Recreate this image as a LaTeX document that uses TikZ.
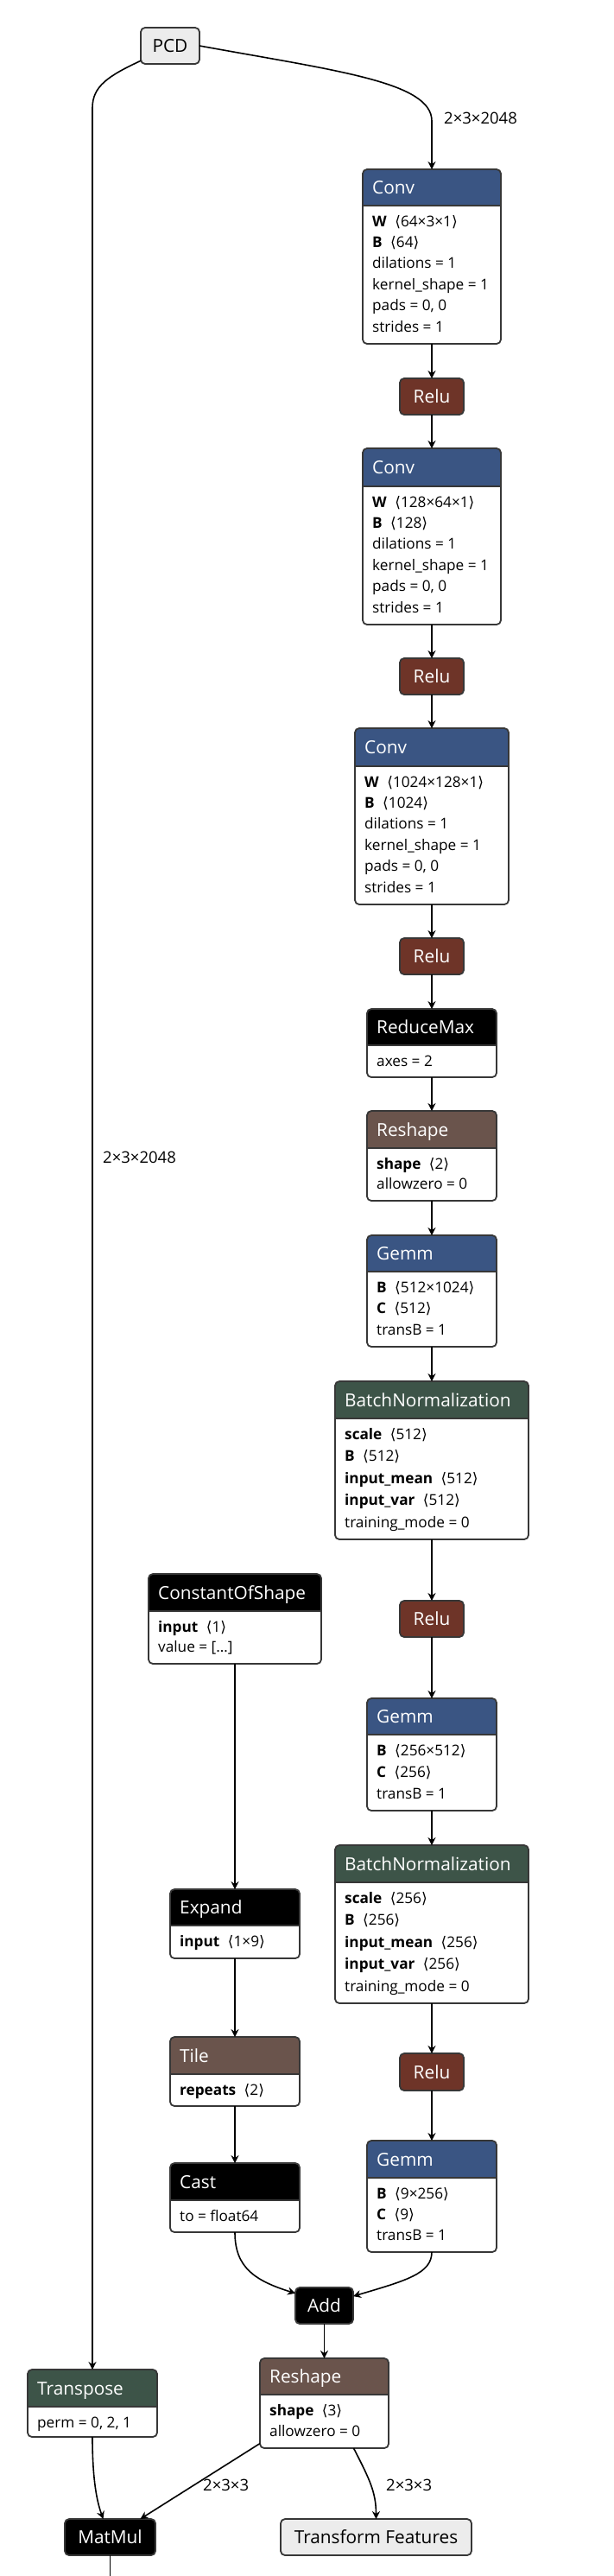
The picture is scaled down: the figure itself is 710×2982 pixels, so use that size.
\documentclass[tikz,border=0pt]{standalone}
\usepackage{fontspec}
\setmainfont{Open Sans}
\newfontfamily\brk{DejaVu Sans}
\usetikzlibrary{arrows.meta}
\definecolor{layercol}{RGB}{58,85,131}
\definecolor{actcol}{RGB}{110,52,40}
\definecolor{normcol}{RGB}{61,84,72}
\definecolor{shapecol}{RGB}{106,84,76}
\definecolor{bordercol}{RGB}{55,55,55}
\definecolor{iocol}{RGB}{236,236,236}
\newcommand\hdrfont{\fontsize{20.8}{24}\selectfont}
\newcommand\bodyfont{\fontsize{17.2}{20}\selectfont}
\newcommand\tnsr[2]{\textbf{#1}\hspace{0.55em}{\brk ⟨}#2{\brk ⟩}}
\tikzset{
  hdrtext/.style={font=\hdrfont, text=white, inner sep=0pt},
  bodytext/.style={font=\bodyfont, text=black, inner sep=0pt},
  lbl/.style={font=\fontsize{18.5}{22}\selectfont, inner sep=0pt},
  edge/.style={line width=1.6pt, -{Stealth[length=9pt,width=9pt,inset=3pt]}},
  plainedge/.style={line width=1.6pt},
}
\newcommand\bxrows[1]{%
  \foreach \rw [count=\ri] in {#1}{%
    \node[bodytext, anchor=base west] at (\bxl+11, {\bxhb+24+(\ri-1)*(\bxb-\bxhb-38)/max(\bxn-1,1)}) {\rw};
  }}
\newcommand\opbox[9]{%
  \def\bxl{#2}\def\bxhb{#5}\def\bxb{#6}\def\bxn{#9}%
  \node[fill=white, inner sep=0pt, outer sep=0pt, minimum width={#4pt-#2pt}, minimum height={#6pt-#3pt}, anchor=north west] (#1) at (#2,#3) {};
  \begin{scope}
    \clip[rounded corners=5pt] (#2,#3) rectangle (#4,#6);
    \fill[#7] (#2,#3) rectangle (#4,#5);
  \end{scope}
  \draw[bordercol, line width=1.8pt] (#2,#5) -- (#4,#5);
  \draw[bordercol, line width=1.8pt, rounded corners=5pt] (#2,#3) rectangle (#4,#6);
  \node[hdrtext, anchor=base west] at (#2+11, {(#3+#5)/2+7.5}) {#8};
  \bxrows}
\newcommand\smbox[8]{%
  \node[draw=bordercol, line width=1.8pt, rounded corners=5pt, fill=#6, text=#7, inner sep=0pt, outer sep=0pt, minimum width={#4pt-#2pt}, minimum height={#5pt-#3pt}, anchor=north west, font=\hdrfont] (#1) at (#2,#3) {#8};}
\begin{document}
\begin{tikzpicture}[x=1pt,y=-1pt]
\fill[white] (0,0) rectangle (710,2982);
\useasboundingbox (0,0) rectangle (710,2982);

\smbox{pcd}{163}{32}{231}{74}{iocol}{black}{PCD}
\opbox{conv1}{420}{196}{580}{238}{398}{layercol}{Conv}{6}{\tnsr{W}{64×3×1}, \tnsr{B}{64}, dilations = 1, kernel\_shape = 1, {pads = 0, 0}, strides = 1}
\smbox{relu1}{463}{438}{537}{480}{actcol}{white}{Relu}
\opbox{conv2}{420}{519}{580}{563}{723}{layercol}{Conv}{6}{\tnsr{W}{128×64×1}, \tnsr{B}{128}, dilations = 1, kernel\_shape = 1, {pads = 0, 0}, strides = 1}
\smbox{relu2}{463}{762}{537}{804}{actcol}{white}{Relu}
\opbox{conv3}{411}{843}{589}{887}{1047}{layercol}{Conv}{6}{\tnsr{W}{1024×128×1}, \tnsr{B}{1024}, dilations = 1, kernel\_shape = 1, {pads = 0, 0}, strides = 1}
\smbox{relu3}{463}{1086}{537}{1128}{actcol}{white}{Relu}
\opbox{reducemax}{425}{1168}{575}{1210}{1247}{black}{ReduceMax}{1}{axes = 2}
\opbox{reshapeA}{425}{1286}{575}{1329}{1390}{shapecol}{Reshape}{2}{\tnsr{shape}{2}, allowzero = 0}
\opbox{gemm1}{425}{1430}{575}{1472}{1559}{layercol}{Gemm}{3}{\tnsr{B}{512×1024}, \tnsr{C}{512}, transB = 1}
\opbox{bn1}{388}{1599}{612}{1642}{1782}{normcol}{BatchNormalization}{5}{\tnsr{scale}{512}, \tnsr{B}{512}, \tnsr{input\_mean}{512}, \tnsr{input\_var}{512}, training\_mode = 0}
\smbox{relu4}{463}{1853}{537}{1895}{actcol}{white}{Relu}
\opbox{gemm2}{425}{1966}{575}{2008}{2096}{layercol}{Gemm}{3}{\tnsr{B}{256×512}, \tnsr{C}{256}, transB = 1}
\opbox{bn2}{388}{2136}{612}{2179}{2319}{normcol}{BatchNormalization}{5}{\tnsr{scale}{256}, \tnsr{B}{256}, \tnsr{input\_mean}{256}, \tnsr{input\_var}{256}, training\_mode = 0}
\smbox{relu5}{463}{2377}{537}{2420}{actcol}{white}{Relu}
\opbox{gemm3}{425}{2478}{575}{2521}{2607}{layercol}{Gemm}{3}{\tnsr{B}{9×256}, \tnsr{C}{9}, transB = 1}
\opbox{cos}{172}{1822}{372}{1865}{1926}{black}{ConstantOfShape}{2}{\tnsr{input}{1}, value = […]}
\opbox{expand}{197}{2187}{347}{2229}{2267}{black}{Expand}{1}{\tnsr{input}{1×9}}
\opbox{tile}{197}{2358}{347}{2401}{2438}{shapecol}{Tile}{1}{\tnsr{repeats}{2}}
\opbox{cast}{197}{2504}{347}{2547}{2584}{black}{Cast}{1}{to = float64}
\smbox{add}{342}{2648}{409}{2690}{black}{white}{Add}
\opbox{reshapeB}{301}{2730}{450}{2772}{2834}{shapecol}{Reshape}{2}{\tnsr{shape}{3}, allowzero = 0}
\opbox{transpose}{32}{2743}{182}{2786}{2821}{normcol}{Transpose}{1}{{perm = 0, 2, 1}}
\smbox{matmul}{75}{2916}{180}{2958}{black}{white}{MatMul}
\smbox{tf}{325}{2916}{546}{2958}{iocol}{black}{Transform Features}
\coordinate (mmout) at (127.5,2982);

% edges
\draw[edge] (pcd.east) .. controls (390,82) and (500,95) .. (500,140) -- (conv1.north);
\draw[edge] (pcd.207) .. controls (125,88) and (107,100) .. (107,125) -- (transpose.north);
\draw[edge] (conv1.south) -- (relu1.north);
\draw[edge] (relu1.south) -- (conv2.north);
\draw[edge] (conv2.south) -- (relu2.north);
\draw[edge] (relu2.south) -- (conv3.north);
\draw[edge] (conv3.south) -- (relu3.north);
\draw[edge] (relu3.south) -- (reducemax.north);
\draw[edge] (reducemax.south) -- (reshapeA.north);
\draw[edge] (reshapeA.south) -- (gemm1.north);
\draw[edge] (gemm1.south) -- (bn1.north);
\draw[edge] (bn1.south) -- (relu4.north);
\draw[edge] (relu4.south) -- (gemm2.north);
\draw[edge] (gemm2.south) -- (bn2.north);
\draw[edge] (bn2.south) -- (relu5.north);
\draw[edge] (relu5.south) -- (gemm3.north);
\draw[edge] (cos.south) -- (expand.north);
\draw[edge] (expand.south) -- (tile.north);
\draw[edge] (tile.south) -- (cast.north);
\draw[edge] (cast.south) .. controls (272,2625) and (295,2640) .. (add.157);
\draw[edge] (gemm3.south) .. controls (500,2632) and (470,2640) .. (add.18);
\draw[edge] (add.south) -- (reshapeB.north);
\draw[edge] (transpose.south) .. controls (107,2870) and (112,2895) .. ([xshift=-8pt]matmul.north);
\draw[edge] (reshapeB.212) -- (matmul.31);
\draw[edge] ([xshift=34pt]reshapeB.south) .. controls (428,2870) and (435.5,2885) .. (tf.north);
\draw[plainedge] (matmul.south) -- (mmout);

% labels
\node[lbl, anchor=west] (lblA) at (514,137) {2×3×2048};
\node[lbl, anchor=west] (lblB) at (119,1340) {2×3×2048};
\node[lbl, anchor=west] (lblC) at (235,2877) {2×3×3};
\node[lbl, anchor=west] (lblD) at (447,2877) {2×3×3};
\end{tikzpicture}
\end{document}
